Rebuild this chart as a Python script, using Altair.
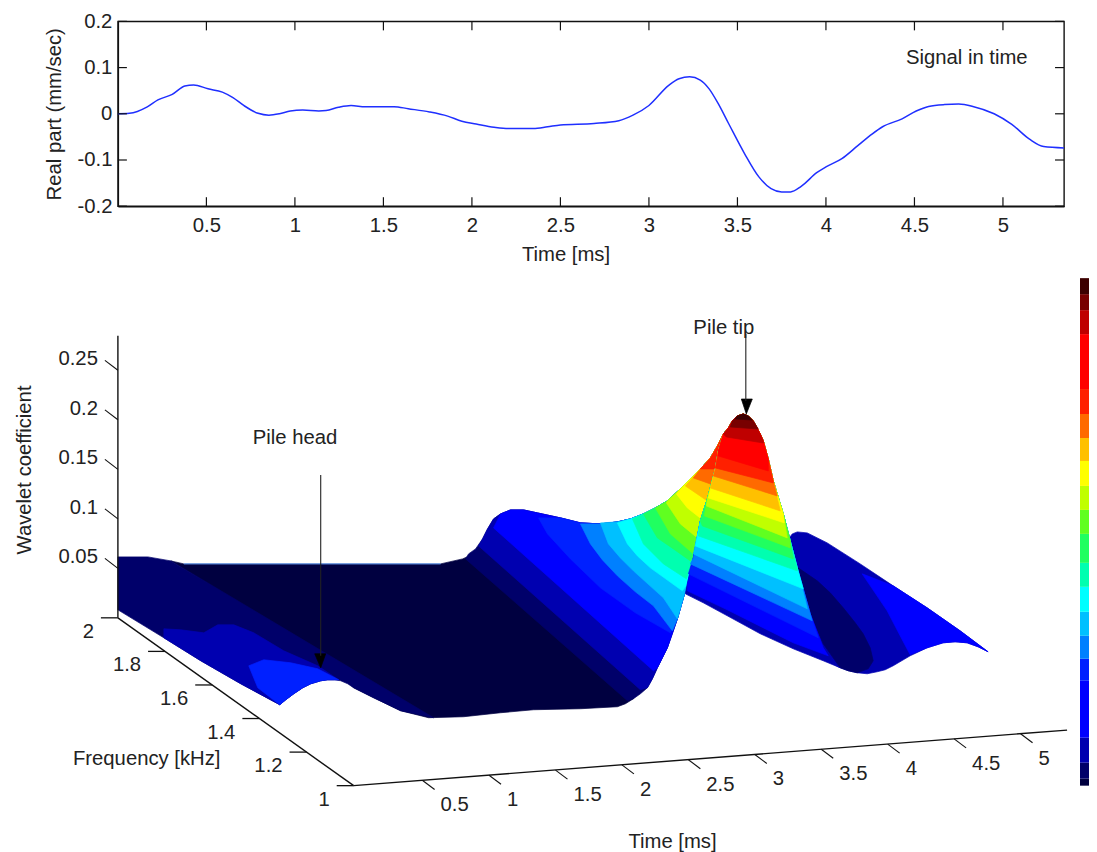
import altair as alt
import pandas as pd

FONT = "Liberation Sans"
TXT = "#222222"
FS = 20.3

# ---------- upper panel: signal in time ----------
sig_t = [0.0, 0.065, 0.166, 0.226, 0.307, 0.378, 0.428, 0.509, 0.59, 0.65, 0.711, 0.792, 0.853, 0.913, 0.974,
         1.044, 1.135, 1.176, 1.246, 1.317, 1.398, 1.46, 1.56, 1.64, 1.76, 1.863, 1.943, 2.024, 2.125, 2.206,
         2.347, 2.428, 2.5, 2.69, 2.83, 2.91, 3.0, 3.11, 3.17, 3.23, 3.29, 3.34, 3.39, 3.45, 3.54, 3.62, 3.69,
         3.75, 3.8, 3.86, 3.95, 4.0, 4.09, 4.18, 4.26, 4.32, 4.43, 4.51, 4.58, 4.67, 4.75, 4.83, 4.95, 5.05,
         5.15, 5.23, 5.345]
sig_v = [0.0, 0.001, 0.015, 0.03, 0.042, 0.06, 0.0625, 0.054, 0.047, 0.035, 0.018, 0.001, -0.003, 0.0, 0.006,
         0.008, 0.006, 0.007, 0.014, 0.018, 0.015, 0.015, 0.0155, 0.011, 0.004, -0.005, -0.016, -0.022, -0.029,
         -0.032, -0.032, -0.028, -0.024, -0.021, -0.015, -0.003, 0.018, 0.061, 0.076, 0.08, 0.073, 0.054, 0.023,
         -0.021, -0.086, -0.136, -0.162, -0.169, -0.169, -0.157, -0.127, -0.115, -0.097, -0.069, -0.044, -0.028,
         -0.011, 0.006, 0.016, 0.02, 0.021, 0.016, 0.0, -0.023, -0.055, -0.071, -0.074]
time_ticks = [0.5, 1, 1.5, 2, 2.5, 3, 3.5, 4, 4.5, 5]
real_ticks = [-0.2, -0.1, 0, 0.1, 0.2]

# ---------- lower panel: axis values ----------
time3d_ticks = [0.5, 1, 1.5, 2, 2.5, 3, 3.5, 4, 4.5, 5]
freq_ticks = [1, 1.2, 1.4, 1.6, 1.8, 2]
coef_ticks = [0.05, 0.1, 0.15, 0.2, 0.25]

# ---------- lower panel: contour bands ----------
TOP = [(462, 558), (468, 553), (475, 548), (482, 538), (487, 528), (493, 518), (500, 513), (510, 509), (523, 509),
       (537, 512), (560, 517), (580, 522), (600, 523), (617, 521), (630, 518), (643, 513), (655, 507), (667, 500),
       (683, 485), (700, 468), (710, 457), (717, 445), (723, 433), (728, 427), (732, 420), (737, 415), (743, 413)]
FRONT = [(617, 706), (625, 703), (633, 698), (640, 693), (647, 687), (652, 678), (657, 667), (667, 647), (677, 618),
         (687, 583), (693, 557), (700, 520), (707, 498), (715, 468), (718, 450), (723, 433), (728, 427), (732, 420),
         (737, 415), (743, 413)]
RIGHT = [(748, 415), (753, 420), (760, 433), (763, 440), (768, 458), (773, 480), (783, 513), (790, 540), (797, 567),
         (810, 613), (823, 647), (833, 663), (840, 667)]
FACE_BOTTOM = [(823, 660), (793, 648), (760, 633), (727, 615), (703, 602), (685, 593)]
HUMP = [(353, 687), (347, 683), (340, 680), (334, 679), (327, 679), (320, 680), (310, 683), (302, 687), (293, 693),
        (285, 699), (279, 704)]

CENTRE = [(170, 560), (183, 563), (440, 563), (462, 558), (480, 550), (640, 680), (633, 698), (625, 703), (617, 706),
          (580, 708), (533, 709), (500, 712), (463, 716), (428, 717), (400, 710), (373, 697), (353, 687), (300, 640)]
LEFT_1 = [(117, 556), (147, 556), (170, 560), (433, 717), (400, 710), (373, 697)] + HUMP + [(240, 683), (200, 660),
                                                                                          (163, 637), (117, 609)]
LEFT_2 = [(163, 628), (180, 629), (203, 632), (217, 624), (233, 624), (253, 632), (283, 650), (317, 665),
          (338, 679)] + HUMP[3:] + [(240, 683), (200, 660), (163, 637)]
LEFT_3 = [(248, 665), (263, 659), (290, 662), (317, 668), (338, 679)] + HUMP[3:] + [(257, 687)]

RIDGE_BASE = [(789, 537), (792, 533), (797, 531), (807, 532), (827, 542), (860, 563), (893, 585), (927, 607), (960, 630),
              (988, 651), (978, 646), (967, 642), (955, 641), (943, 642), (927, 647), (910, 655), (893, 665), (885, 669),
              (877, 671), (867, 673), (857, 672), (848, 670), (840, 667), (810, 650), (785, 600), (785, 550)]
RIDGE_LIGHT = [(862, 573), (887, 610), (900, 635), (910, 654), (927, 647), (943, 642), (955, 641), (967, 642), (978, 646),
               (988, 651), (960, 630), (927, 607), (893, 585)]
RIDGE_DARK = [(795, 565), (817, 580), (830, 592), (843, 607), (855, 622), (863, 633), (870, 647), (873, 660), (868, 668),
              (857, 672), (848, 670), (840, 667), (823, 643), (810, 613)]

LEFT_FACE = [
    ("#00006a", [(465, 558), (627, 700)]),
    ("#0000b0", [(478, 545), (640, 689)]),
    ("#0000ff", [(493, 527), (653, 670)]),
    ("#0020ff", [(538, 517), (547, 533), (570, 558), (600, 587), (635, 612), (670, 632)]),
    ("#0080ff", [(580, 523), (590, 543), (602, 559), (617, 575), (635, 591), (653, 605), (672, 630)]),
    ("#00c0ff", [(600, 522), (608, 543), (620, 557), (633, 570), (663, 597), (677, 618)]),
    ("#00ffff", [(617, 522), (627, 543), (637, 555), (650, 567), (682, 590)]),
    ("#00ffb0", [(632, 518), (643, 543), (663, 563), (686, 578)]),
    ("#20ff60", [(643, 513), (657, 537), (673, 548), (690, 560)]),
    ("#60ff20", [(655, 507), (670, 533), (693, 553)]),
    ("#c0ff00", [(666, 502), (680, 523), (697, 537)]),
    ("#ffff00", [(676, 493), (687, 507), (701, 518)]),
    ("#ffc000", [(685, 485), (707, 500)]),
    ("#ff6a00", [(693, 477), (710, 483)]),
    ("#ff2000", [(700, 468), (715, 468)]),
]
FRONT_FACE = [
    ("#0000ff", [(687, 590), (727, 609), (793, 642), (828, 655)]),
    ("#0020ff", [(688, 573), (818, 637)]),
    ("#0080ff", [(690, 563), (812, 620)]),
    ("#00c0ff", [(693, 553), (807, 608)]),
    ("#00ffff", [(695, 545), (803, 588)]),
    ("#00ffb0", [(698, 535), (797, 570)]),
    ("#20ff60", [(702, 525), (793, 558)]),
    ("#60ff20", [(704, 515), (790, 547)]),
    ("#c0ff00", [(706, 505), (787, 537)]),
    ("#ffff00", [(708, 497), (784, 522)]),
    ("#ffc000", [(710, 487), (780, 510)]),
    ("#ff6a00", [(713, 475), (777, 495)]),
    ("#ff2000", [(715, 467), (773, 482)]),
    ("#ff0000", [(718, 455), (768, 470)]),
    ("#bf0000", [(726, 436), (763, 442)]),
    ("#780000", [(730, 426), (758, 428)]),
    ("#3c0000", [(735, 418), (752, 419)]),
]

ARROW_HEAD = [(320, 667), (314, 653), (325, 653)]
ARROW_TIP = [(746, 413), (741, 398), (752, 398)]

# ---------- colour bar ----------
bar_colours = ["#000040", "#00006a", "#0000b0", "#0000ff", "#0020ff", "#0080ff", "#00c0ff", "#00ffff", "#00ffb0",
               "#20ff60", "#60ff20", "#c0ff00", "#ffff00", "#ffc000", "#ff6a00", "#ff2000", "#ff0000", "#bf0000",
               "#780000", "#3c0000"]
bar_edges = [785, 778, 762, 737, 680, 658, 635, 611, 586, 562, 533, 509, 485, 460, 437, 413, 388, 333, 309, 293, 277]


# ---------- helpers ----------
def t_pt(t):
    return 355.5 + 133 * t, 785 - 10.4 * t


def f_pt(f):
    return 353 - 236 * (f - 1), 785 - 168 * (f - 1)


def z_pt(z):
    return 117, 617 - 991 * z


polys = []
polys.append(("#0000b0", RIDGE_BASE))
polys.append(("#0000ff", RIDGE_LIGHT))
polys.append(("#00006a", RIDGE_DARK))
polys.append(("#000040", CENTRE))
polys.append(("#00006a", LEFT_1))
polys.append(("#0000b0", LEFT_2))
polys.append(("#0020ff", LEFT_3))
for col, b in LEFT_FACE:
    front = [p for p in FRONT if p[1] < b[-1][1]]
    top = [p for p in reversed(TOP[:-1]) if p[0] > b[0][0]]
    polys.append((col, b + front + top))
face_left = [p for p in FRONT if p[1] <= 590 and p[0] >= 685]
polys.append(("#0000b0", [(685, 593)] + face_left + RIGHT + FACE_BOTTOM))
for col, b in FRONT_FACE:
    right = [p for p in reversed(RIGHT) if p[1] < b[-1][1]]
    left = [p for p in FRONT if p[1] < b[0][1]]
    polys.append((col, b + right + list(reversed(left))))
polys.append(("#000000", ARROW_HEAD))
polys.append(("#000000", ARROW_TIP))

rows = []
for pid, (col, pts) in enumerate(polys):
    for i, (x, y) in enumerate(pts):
        rows.append({"pid": f"{pid:03d}", "i": i, "x": x, "y": y, "c": col})
poly_df = pd.DataFrame(rows)

# axis lines and tick marks in the 3-D box
seg = []


def add_seg(a, b, w=1.4):
    sid = len(seg)
    seg.append({"sid": sid, "x": a[0], "y": a[1], "x2": b[0], "y2": b[1], "w": w})


add_seg(z_pt(0.285), z_pt(0))
add_seg(f_pt(2), f_pt(1))
add_seg(f_pt(1), t_pt(5.35))
for z in coef_ticks:
    p = z_pt(z)
    add_seg(p, (p[0] - 13, p[1] - 10), 1.1)
for f in freq_ticks:
    p = f_pt(f)
    add_seg(p, (p[0] - 17, p[1]), 1.3)
for t in time3d_ticks:
    p = t_pt(t)
    add_seg(p, (p[0] + 12, p[1] + 9), 1.1)
seg_df = pd.DataFrame(seg)

labels = []
for z in coef_ticks:
    p = z_pt(z)
    labels.append({"x": p[0] - 20, "y": p[1] - 11, "s": f"{z:g}", "a": "right"})
for f in freq_ticks:
    p = f_pt(f)
    labels.append({"x": p[0] - 24, "y": p[1] + 14, "s": f"{f:g}", "a": "right"})
for t in time3d_ticks:
    p = t_pt(t)
    labels.append({"x": p[0] + 18, "y": p[1] + 25, "s": f"{t:g}", "a": "left"})
labels.append({"x": 72, "y": 758, "s": "Frequency [kHz]", "a": "left"})
labels.append({"x": 628, "y": 841, "s": "Time [ms]", "a": "left"})
labels.append({"x": 252, "y": 437, "s": "Pile head", "a": "left"})
labels.append({"x": 693, "y": 327, "s": "Pile tip", "a": "left"})
lab_df = pd.DataFrame(labels)

bar_df = pd.DataFrame({"x": 1080, "x2": 1089, "y": bar_edges[:-1], "y2": bar_edges[1:], "c": bar_colours})

# ---------- scales ----------
W3, H3 = 972, 576
xs = alt.Scale(domain=[117, 117 + W3], nice=False, zero=False)
ys = alt.Scale(domain=[270 + H3, 270], nice=False, zero=False)
X = alt.X("x:Q", scale=xs, axis=None)
Y = alt.Y("y:Q", scale=ys, axis=None)

poly_layer = alt.Chart(poly_df).mark_line(strokeWidth=0.7, interpolate="linear-closed").encode(
    x=X, y=Y, order="i:Q", detail="pid:N",
    color=alt.Color("c:N", scale=None), fill=alt.Fill("c:N", scale=None))
edge_layer = alt.Chart(pd.DataFrame({"x": [183], "x2": [440], "y": [563]})).mark_rule(
    color="#6aa8ff", strokeWidth=1).encode(x=X, x2="x2:Q", y=Y)
seg_layer = alt.Chart(seg_df).mark_rule(color="#111111").encode(
    x=X, y=Y, x2="x2:Q", y2="y2:Q", strokeWidth=alt.StrokeWidth("w:Q", scale=None))
arrow_layer = alt.Chart(pd.DataFrame({"x": [320, 745.5], "y": [474, 333], "y2": [655, 400]})).mark_rule(
    color="#222222", strokeWidth=1.1).encode(x=X, y=Y, y2="y2:Q")
text_layer = alt.Chart(lab_df[lab_df.a == "right"]).mark_text(
    align="right", baseline="middle", font=FONT, fontSize=FS, color=TXT).encode(x=X, y=Y, text="s:N")
text_layer2 = alt.Chart(lab_df[lab_df.a == "left"]).mark_text(
    align="left", baseline="middle", font=FONT, fontSize=FS, color=TXT).encode(x=X, y=Y, text="s:N")
z_title = alt.Chart(pd.DataFrame({"x": [24], "y": [469], "s": ["Wavelet coefficient"]})).mark_text(
    angle=270, align="center", baseline="middle", font=FONT, fontSize=FS, color=TXT).encode(x=X, y=Y, text="s:N")
bar_layer = alt.Chart(bar_df).mark_rect(strokeWidth=0).encode(
    x=X, x2="x2:Q", y=Y, y2="y2:Q", color=alt.Color("c:N", scale=None))

lower = alt.layer(poly_layer, edge_layer, arrow_layer, seg_layer, text_layer, text_layer2, z_title, bar_layer).properties(
    width=W3, height=H3, view=alt.ViewConfig(stroke=None))

# ---------- upper chart ----------
sig_df = pd.DataFrame({"t": sig_t, "v": sig_v})
tx = alt.Scale(domain=[0.0, 5.345], nice=False, zero=False)
vy = alt.Scale(domain=[-0.2, 0.2], nice=False, zero=False)
signal = alt.Chart(sig_df).mark_line(color="#1f2fff", strokeWidth=1.5, interpolate="monotone").encode(
    x=alt.X("t:Q", scale=tx, title="Time [ms]",
            axis=alt.Axis(values=time_ticks, labelExpr="'' + datum.value", tickSize=0, labelPadding=9, titlePadding=9,
                          titleX=448, grid=False, domainColor="#111111", domainWidth=1.4, labelFont=FONT,
                          titleFont=FONT, labelFontSize=FS, titleFontSize=FS, titleFontWeight="normal",
                          labelColor=TXT, titleColor=TXT, labelFlush=False, labelOverlap=False)),
    y=alt.Y("v:Q", scale=vy, title="Real part (mm/sec)",
            axis=alt.Axis(values=real_ticks, labelExpr="'' + datum.value", tickSize=0, labelPadding=6, titlePadding=13,
                          grid=False, domainColor="#111111", domainWidth=1.4, labelFont=FONT, titleFont=FONT,
                          labelFontSize=FS, titleFontSize=FS, titleFontWeight="normal", labelColor=TXT,
                          titleColor=TXT, labelFlush=False, labelOverlap=False)),
)
tdf = pd.DataFrame({"t": time_ticks})
rdf = pd.DataFrame({"v": real_ticks})
tk = dict(color="#111111", strokeWidth=1.2)
t_bottom = alt.Chart(tdf).mark_rule(**tk).encode(x=alt.X("t:Q", scale=tx), y=alt.value(185), y2=alt.value(176))
t_top = alt.Chart(tdf).mark_rule(**tk).encode(x=alt.X("t:Q", scale=tx), y=alt.value(0), y2=alt.value(9))
v_left = alt.Chart(rdf).mark_rule(**tk).encode(y=alt.Y("v:Q", scale=vy), x=alt.value(0), x2=alt.value(9))
v_right = alt.Chart(rdf).mark_rule(**tk).encode(y=alt.Y("v:Q", scale=vy), x=alt.value(947), x2=alt.value(938))
note = alt.Chart(pd.DataFrame({"t": [4.452], "v": [0.12], "s": ["Signal in time"]})).mark_text(
    align="left", baseline="middle", font=FONT, fontSize=FS, color=TXT).encode(
    x=alt.X("t:Q", scale=tx), y=alt.Y("v:Q", scale=vy), text="s:N")
upper = alt.layer(signal, t_bottom, t_top, v_left, v_right, note).properties(
    width=947, height=185, view=alt.ViewConfig(stroke="#111111", strokeWidth=1.4))

chart = alt.vconcat(upper, lower, spacing=65, bounds="flush").properties(
    padding={"left": 7, "top": 2, "right": 0, "bottom": 0}, background="white"
).resolve_scale(x="independent", y="independent", color="independent")

chart.save("out.html", embed_options={"renderer": "svg", "actions": False})
